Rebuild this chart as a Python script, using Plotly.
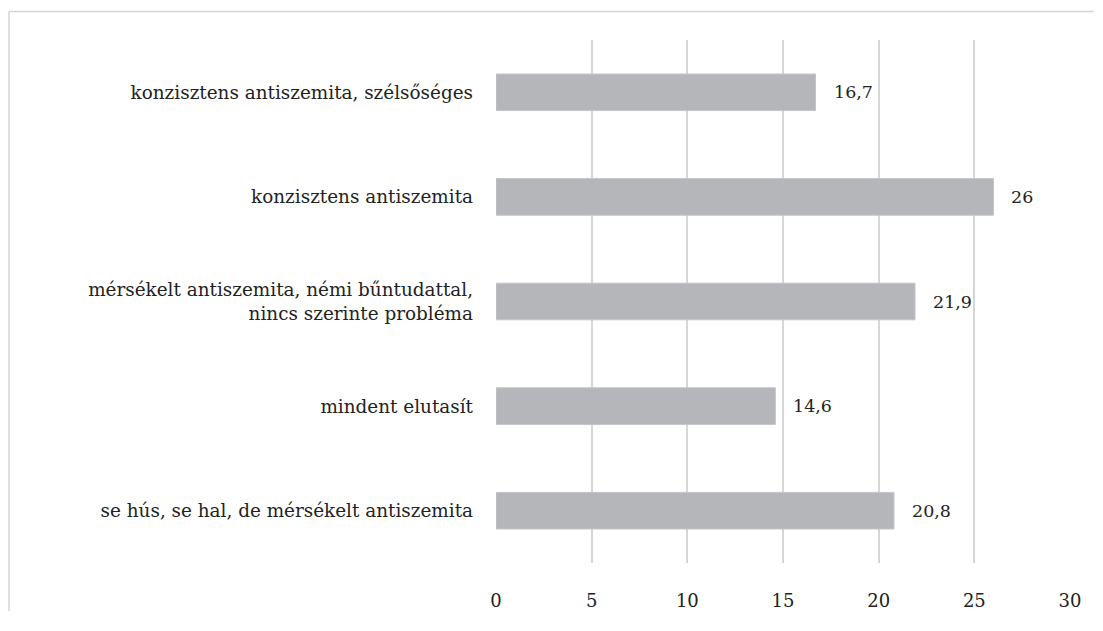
import plotly.graph_objects as go

categories = [
    "konzisztens antiszemita, szélsőséges",
    "konzisztens antiszemita",
    "mérsékelt antiszemita, némi bűntudattal,<br>nincs szerinte probléma",
    "mindent elutasít",
    "se hús, se hal, de mérsékelt antiszemita",
]
values = [16.7, 26, 21.9, 14.6, 20.8]
value_labels = ["16,7", "26", "21,9", "14,6", "20,8"]
x_ticks = [0, 5, 10, 15, 20, 25, 30]

FONT = "DejaVu Serif"
TEXT_COLOR = "#222222"

fig = go.Figure()
fig.add_trace(go.Bar(
    x=values, y=categories, orientation="h",
    marker=dict(color="#b5b6b9", line=dict(color="#c4c5c7", width=1)),
    hoverinfo="skip",
))

for v, c, t in zip(values, categories, value_labels):
    fig.add_annotation(x=v, y=c, text=t, showarrow=False, xanchor="left",
                       xshift=16, font=dict(family=FONT, size=17.5, color=TEXT_COLOR))

border_left = (9 - 496) / 574
border_top = 1 + 29 / 533
fig.add_shape(type="line", xref="paper", yref="paper",
              x0=border_left, x1=1.041, y0=border_top, y1=border_top,
              line=dict(color="#d4d4d4", width=1.5), layer="below")
fig.add_shape(type="line", xref="paper", yref="paper",
              x0=border_left, x1=border_left, y0=-0.092, y1=border_top,
              line=dict(color="#d4d4d4", width=1.5), layer="below")

fig.update_layout(
    width=1087, height=615,
    margin=dict(l=488, r=25, t=32, b=50),
    paper_bgcolor="white", plot_bgcolor="white",
    showlegend=False, bargap=0.65,
    font=dict(family=FONT, size=18.4, color=TEXT_COLOR),
    xaxis=dict(range=[0, 30], tickvals=x_ticks, ticktext=[str(t) for t in x_ticks],
               tickfont=dict(size=18),
               showgrid=True, gridcolor="#d6d6d6", gridwidth=1.5,
               zeroline=False, showline=False, ticks="", ticklabelstandoff=25,
               fixedrange=True),
    yaxis=dict(autorange="reversed", showgrid=False, zeroline=False,
               showline=False, ticks="", ticklabelstandoff=22, fixedrange=True),
)

fig.write_html("out.html")
